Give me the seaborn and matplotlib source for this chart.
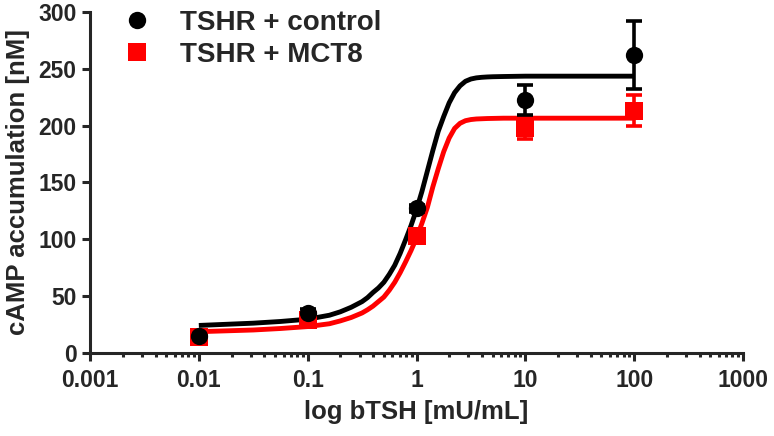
import matplotlib
matplotlib.use("Agg")
import matplotlib.pyplot as plt
import matplotlib.ticker as mticker
from matplotlib.lines import Line2D
import numpy as np
import pandas as pd
import seaborn as sns

# measured points (mean +/- SEM)
dose = [0.01, 0.1, 1, 10, 100]
ctrl_mean = [14.7, 35.2, 127, 222.4, 262.5]
ctrl_sem = [2, 3, 3, 13.5, 30]
mct8_mean = [13.5, 29, 103, 197.5, 213]
mct8_sem = [3, 3, 3, 9, 13.5]

# fitted curves (log10 dose vs cAMP)
fit_log_dose = [-2.0, -1.5, -1.25, -1.0, -0.8, -0.7, -0.6,
                -0.5, -0.45, -0.4, -0.35, -0.3, -0.25, -0.2, -0.15, -0.1, -0.05,
                0.0, 0.05, 0.1, 0.15, 0.2, 0.25, 0.3, 0.35, 0.4, 0.45,
                0.5, 0.55, 0.6, 0.65, 0.7,
                0.8, 1.0, 1.5, 2.0]
ctrl_fit = [24, 26, 27.5, 29.5, 33, 36, 40,
            45, 48.5, 53, 57, 62, 69, 77, 87.5, 99.5, 112,
            126, 142, 160, 178, 195, 208, 220, 229, 235, 239,
            241, 242, 242.5, 242.8, 243,
            243.2, 243.5, 243.5, 243.5]
mct8_fit = [18.5, 20, 21.3, 23, 25.5, 28, 31,
            35, 37.8, 41, 45, 49, 55, 62, 70.5, 80, 90,
            101, 114, 128, 146, 162, 177, 189, 197.5, 202, 204.3,
            205.3, 205.8, 206, 206.2, 206.3,
            206.5, 206.5, 206.5, 206.5]

labels = ["TSHR + control", "TSHR + MCT8"]
colors = ["#000000", "#ff0000"]

sns.set_style("ticks")
plt.rcParams['font.family'] = ['Liberation Sans', 'DejaVu Sans']
plt.rcParams['font.weight'] = 'bold'

fit_df = pd.DataFrame({
    "dose": np.power(10.0, fit_log_dose * 2),
    "camp": ctrl_fit + mct8_fit,
    "group": [labels[0]] * len(ctrl_fit) + [labels[1]] * len(mct8_fit),
})
pts_df = pd.DataFrame({
    "dose": dose * 2,
    "camp": ctrl_mean + mct8_mean,
    "sem": ctrl_sem + mct8_sem,
    "group": [labels[0]] * 5 + [labels[1]] * 5,
})

fig = plt.figure(figsize=(7.74, 4.36), dpi=100)
ax = fig.add_axes([90 / 774, 1 - 352.7 / 436, 653 / 774, 340.7 / 436])

# red first, black on top
for lab, col, mk in [(labels[1], colors[1], 's'), (labels[0], colors[0], 'o')]:
    sub = fit_df[fit_df.group == lab]
    sns.lineplot(data=sub, x="dose", y="camp", ax=ax, color=col, linewidth=3.5,
                 sort=False, errorbar=None, legend=False, zorder=2,
                 solid_joinstyle='round', solid_capstyle='butt')
    p = pts_df[pts_df.group == lab]
    ax.errorbar(p["dose"], p["camp"], yerr=p["sem"], fmt='none', ecolor=col,
                elinewidth=2.6, capsize=5.8, capthick=2.6, zorder=3)
    sns.scatterplot(data=p, x="dose", y="camp", ax=ax, color=col, marker=mk,
                    s=155, linewidth=0, legend=False, zorder=4)

ax.set_xscale('log')
ax.set_xlim(0.001, 1000)
ax.set_ylim(0, 300)
ax.set_yticks([0, 50, 100, 150, 200, 250, 300])
ax.xaxis.set_minor_locator(mticker.LogLocator(base=10, subs=np.arange(2, 10), numticks=20))
ax.xaxis.set_minor_formatter(mticker.NullFormatter())
ax.set_xticks([0.001, 0.01, 0.1, 1, 10, 100, 1000])
ax.set_xticklabels(["0.001", "0.01", "0.1", "1", "10", "100", "1000"])

ax.set_xlabel("log bTSH [mU/mL]", fontsize=18.5, fontweight='bold', labelpad=6)
ax.set_ylabel("cAMP accumulation [nM]", fontsize=18.5, fontweight='bold', labelpad=6)

ax.tick_params(axis='both', which='major', direction='out', length=5.8, width=2.2,
               labelsize=16.5, pad=4)
ax.tick_params(axis='x', which='major', pad=6)
ax.tick_params(axis='x', which='minor', direction='out', length=3, width=2.2)
for lbl in ax.get_xticklabels() + ax.get_yticklabels():
    lbl.set_fontweight('bold')

sns.despine(ax=ax, top=True, right=True)
for s in ['left', 'bottom']:
    ax.spines[s].set_linewidth(2.2)

handles = [Line2D([], [], linestyle='none', marker='o', markersize=12.5,
                  color=colors[0], markeredgewidth=0),
           Line2D([], [], linestyle='none', marker='s', markersize=12.5,
                  color=colors[1], markeredgewidth=0)]
leg = ax.legend(handles, labels, loc='upper left', bbox_to_anchor=(0.0513, 1.007),
                frameon=False, fontsize=20, borderpad=0, borderaxespad=0,
                handlelength=1.0, handletextpad=1.05, labelspacing=0.22)
for t in leg.get_texts():
    t.set_fontweight('bold')

fig.savefig("out.png", dpi=100)
